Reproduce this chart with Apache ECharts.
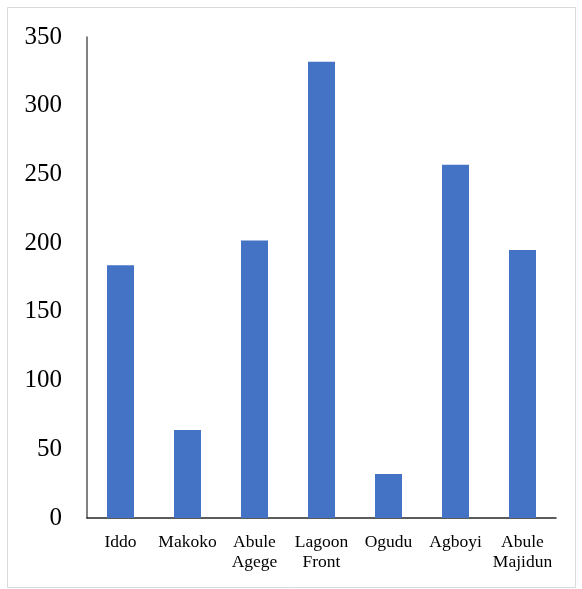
<!DOCTYPE html>
<html>
<head>
<meta charset="utf-8">
<script src="https://cdn.jsdelivr.net/npm/echarts@6/dist/echarts.min.js"></script>
<style>
  html, body { margin: 0; padding: 0; background: #fff; }
  #chart { width: 582px; height: 589px; }
</style>
</head>
<body>
<div id="chart"></div>
<script>
// Sites along the x axis
const sites = ['Iddo', 'Makoko', 'Abule\nAgege', 'Lagoon\nFront', 'Ogudu', 'Agboyi', 'Abule\nMajidun'];
// Value per site
const values = [184, 64, 202, 332, 32, 257, 195];
// Value axis range
const yMin = 0;
const yMax = 350;
const yStep = 50;

const chart = echarts.init(document.getElementById('chart'), null, { renderer: 'canvas' });
chart.setOption({
  animation: false,
  backgroundColor: '#ffffff',
  graphic: [{
    type: 'rect',
    shape: { x: 7.5, y: 7.5, width: 568, height: 580 },
    style: { fill: 'none', stroke: '#d9d9d9', lineWidth: 1 },
    silent: true
  }],
  grid: { left: 87, top: 37, right: 26, bottom: 71, containLabel: false },
  xAxis: {
    type: 'category',
    data: sites,
    axisLine: { show: true, lineStyle: { color: '#262626', width: 1.5 } },
    axisTick: { show: false },
    axisLabel: {
      interval: 0,
      margin: 14,
      color: '#000',
      fontFamily: 'Liberation Serif',
      fontSize: 17.5,
      lineHeight: 20
    },
    splitLine: { show: false }
  },
  yAxis: {
    type: 'value',
    min: yMin,
    max: yMax,
    interval: yStep,
    axisLine: { show: true, lineStyle: { color: '#595959', width: 1.5 } },
    axisTick: { show: false },
    splitLine: { show: false },
    axisLabel: {
      margin: 25,
      color: '#000',
      fontFamily: 'Liberation Serif',
      fontSize: 25
    }
  },
  series: [{
    type: 'bar',
    data: values,
    barWidth: 27,
    itemStyle: { color: '#4472c4' }
  }]
});
</script>
</body>
</html>
